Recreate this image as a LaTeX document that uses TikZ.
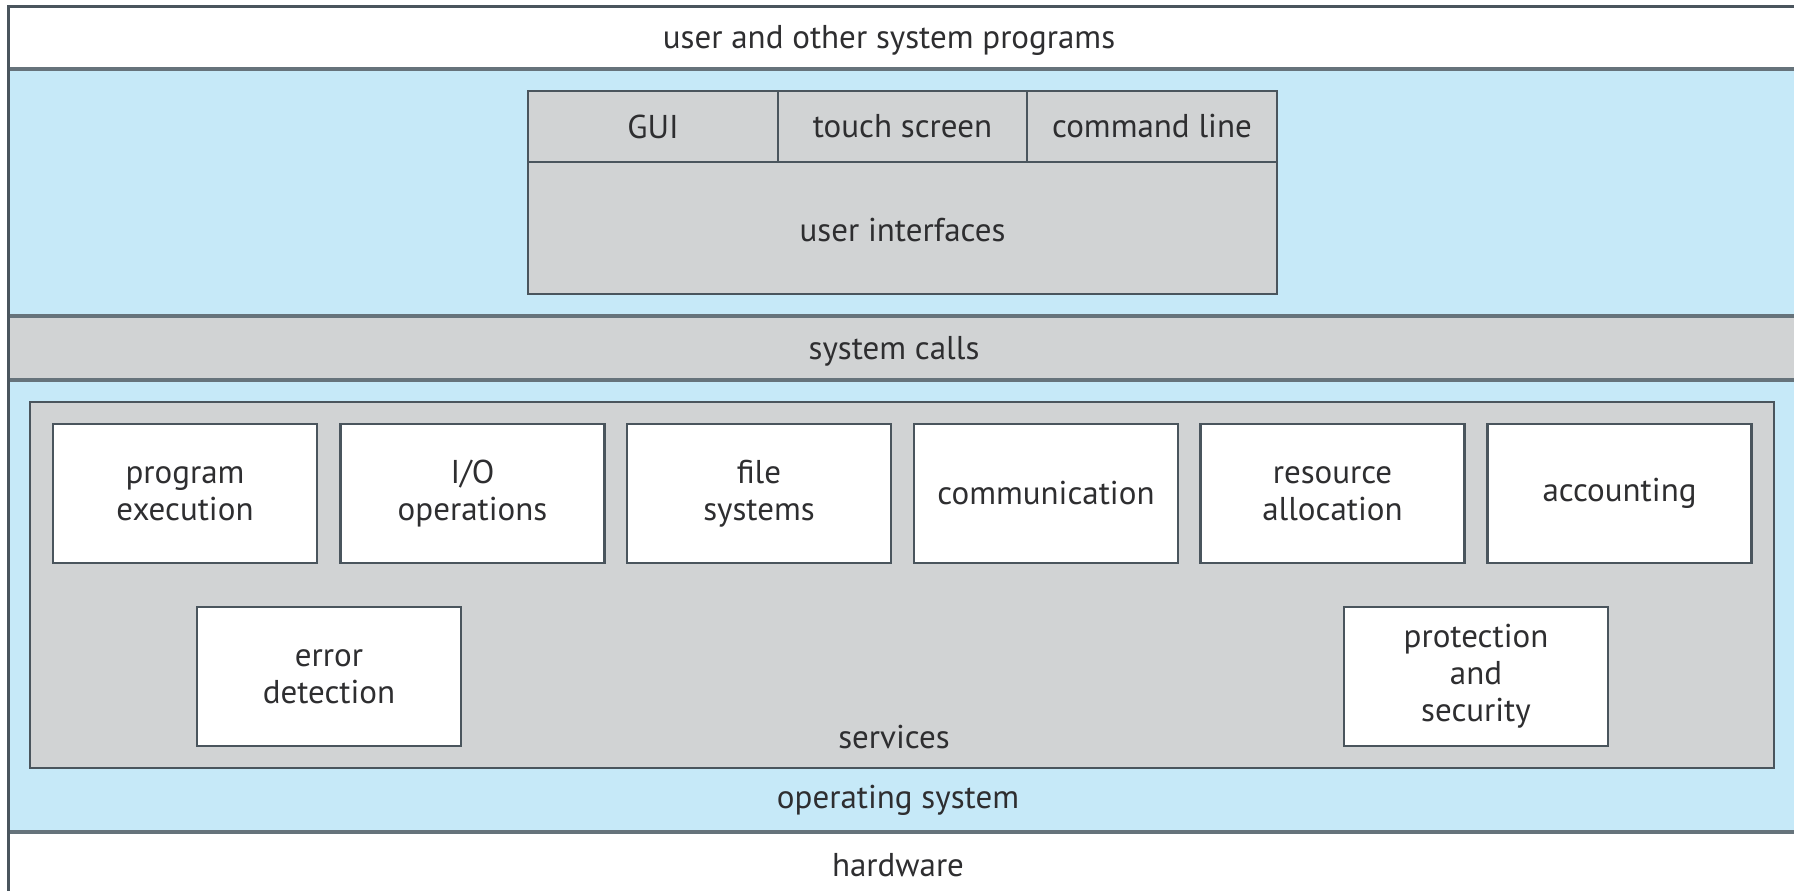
\documentclass[tikz,border=0pt]{standalone}
\usepackage{fontspec}
\setmainfont{PT Sans}
\definecolor{osblue}{HTML}{C6E9F8}
\definecolor{midgray}{HTML}{D1D3D4}
\definecolor{edge}{HTML}{4A555D}
\definecolor{bandline}{HTML}{66737B}
\definecolor{txt}{HTML}{2E2E30}
\begin{document}
\begin{tikzpicture}[x=0.5pt,y=-0.5pt,
  lbl/.style={font=\fontsize{16.5}{18.5}\selectfont, text=txt, align=center, inner sep=0pt},
  svcbox/.style={draw=edge, line width=1.25pt, fill=white, minimum width=132pt, minimum height=69.5pt, lbl},
  cell/.style={draw=edge, line width=1.25pt, fill=midgray, lbl},
  band/.style={bandline, line width=1.75pt},
]
\useasboundingbox (0,0) rectangle (1794,891);
\fill[white] (0,0) rectangle (1794,891);
% bands
\fill[osblue] (8,69) rectangle (1794,316);
\fill[midgray] (8,316) rectangle (1794,380);
\fill[osblue] (8,380) rectangle (1794,832);
\draw[band] (8,69) -- (1794,69);
\draw[band] (8,316) -- (1794,316);
\draw[band] (8,380) -- (1794,380);
\draw[band] (8,832) -- (1794,832);
\draw[edge, line width=1.5pt] (1794,6) -- (8,6) -- (8,891);
% band labels
\node[lbl] (usr) at (889,40) {user and other system programs};
\node[lbl] (sysc) at (894,351) {system calls};
\node[lbl] (os) at (898,800) {operating system};
\node[lbl] (hw) at (898,865) {hardware};
% user interfaces
\node[cell, minimum width=125pt, minimum height=35.5pt] (gui) at (653,126.5) {GUI};
\node[cell, minimum width=124.5pt, minimum height=35.5pt] (touch) at (902.5,126.5) {touch screen};
\node[cell, minimum width=125pt, minimum height=35.5pt] (cmd) at (1152,126.5) {command line};
\node[cell, minimum width=374.5pt, minimum height=66pt] (ui) at (902.5,228) {};
\node[lbl] (uilbl) at (902.5,230) {user interfaces};
% services
\node[draw=edge, line width=1.25pt, fill=midgray, minimum width=872pt, minimum height=183pt, inner sep=0pt] (svc) at (902,585) {};
\node[lbl] (svclbl) at (894,737) {services};
\node[svcbox] (pe) at (185,493.5) {program\\execution};
\node[svcbox] (io) at (472.5,493.5) {I/O\\operations};
\node[svcbox] (fs) at (759,493.5) {file\\systems};
\node[svcbox] (comm) at (1046,493.5) {communication};
\node[svcbox] (ra) at (1332.5,493.5) {resource\\allocation};
\node[svcbox] (acct) at (1619.5,493.5) {accounting};
\node[svcbox] (err) at (329,676.5) {error\\detection};
\node[svcbox] (prot) at (1476,676.5) {protection\\and\\security};
\end{tikzpicture}
\end{document}
